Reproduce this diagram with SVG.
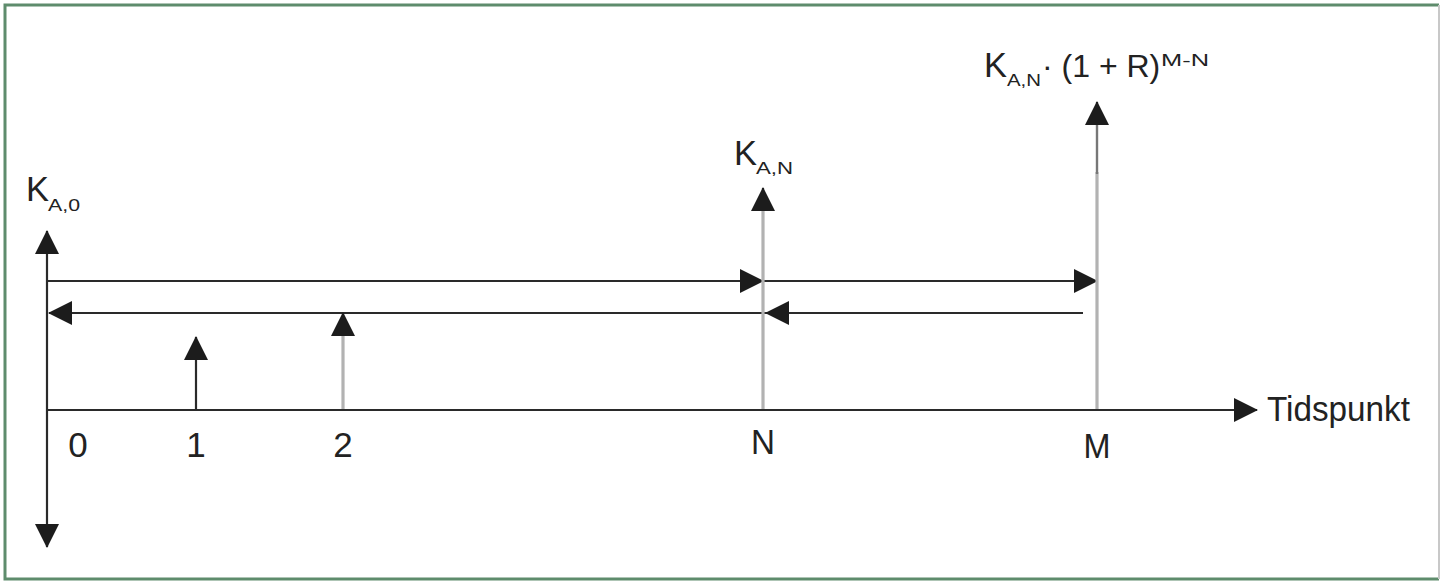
<svg xmlns="http://www.w3.org/2000/svg" width="1440" height="582" viewBox="0 0 1440 582">
  <style>
    .ln { stroke: #2a2a2a; stroke-width: 2.2; fill: none; }
    .gr { stroke: #b2b2b2; stroke-width: 3.2; fill: none; }
    .t { font-family: "Liberation Sans", Arial, sans-serif; font-size: 35px; fill: #222; }
    .s { font-family: "Liberation Sans", Arial, sans-serif; font-size: 17px; fill: #222; }
  </style>
  <defs>
    <marker id="ah" viewBox="0 0 24 24" markerWidth="24" markerHeight="24" refX="23" refY="12" orient="auto-start-reverse" markerUnits="userSpaceOnUse">
      <path d="M0,0 L24,12 L0,24 Z" fill="#1c1c1c"/>
    </marker>
  </defs>
  <rect width="1440" height="582" fill="#ffffff"/>
  <g id="frame">
    <path d="M1439,5 L5,5 L5,579 L1439,579" fill="none" stroke="#5e8c6c" stroke-width="3"/>
    <line x1="1439" y1="5" x2="1439" y2="579" stroke="#c8c8c8" stroke-width="2"/>
  </g>
  <g id="connectors">
    <line class="ln" x1="47" y1="547" x2="47" y2="231" marker-start="url(#ah)" marker-end="url(#ah)"/>
    <line class="ln" x1="46" y1="410" x2="1257" y2="410" marker-end="url(#ah)"/>
    <line class="ln" x1="47" y1="281" x2="763" y2="281" marker-end="url(#ah)"/>
    <line class="ln" x1="763" y1="281" x2="1097" y2="281" marker-end="url(#ah)"/>
    <line class="ln" x1="1083" y1="313" x2="766" y2="313" marker-end="url(#ah)"/>
    <line class="ln" x1="766" y1="313" x2="49" y2="313" marker-end="url(#ah)"/>
    <line class="ln" x1="196" y1="410" x2="196" y2="337" marker-end="url(#ah)"/>
    <line class="gr" x1="343" y1="409" x2="343" y2="330"/>
    <line class="ln" x1="343" y1="330" x2="343" y2="313" marker-end="url(#ah)"/>
    <line class="gr" x1="763" y1="409" x2="763" y2="205"/>
    <line class="ln" x1="763" y1="210" x2="763" y2="188" marker-end="url(#ah)"/>
    <line class="gr" x1="1097" y1="409" x2="1097" y2="172"/>
    <line x1="1097" y1="174" x2="1097" y2="120" stroke="#777" stroke-width="2.4"/>
    <line class="ln" x1="1097" y1="124" x2="1097" y2="102" marker-end="url(#ah)"/>
  </g>
  <g id="label-0"><text class="t" x="78" y="457" text-anchor="middle">0</text></g>
  <g id="label-1"><text class="t" x="196" y="457" text-anchor="middle">1</text></g>
  <g id="label-2"><text class="t" x="343" y="457" text-anchor="middle">2</text></g>
  <g id="label-N"><text class="t" x="763" y="454" text-anchor="middle" textLength="24" lengthAdjust="spacingAndGlyphs">N</text></g>
  <g id="label-M"><text class="t" x="1097" y="458" text-anchor="middle" textLength="27" lengthAdjust="spacingAndGlyphs">M</text></g>
  <g id="label-tidspunkt"><text class="t" x="1267" y="421" textLength="143" lengthAdjust="spacingAndGlyphs">Tidspunkt</text></g>
  <g id="label-KA0">
    <text class="t" x="26" y="201" textLength="23" lengthAdjust="spacingAndGlyphs">K</text>
    <text class="s" x="48" y="211" textLength="32" lengthAdjust="spacingAndGlyphs">A,0</text>
  </g>
  <g id="label-KAN">
    <text class="t" x="734" y="165" textLength="23" lengthAdjust="spacingAndGlyphs">K</text>
    <text class="s" x="756" y="174" textLength="37" lengthAdjust="spacingAndGlyphs">A,N</text>
  </g>
  <g id="label-KAN-M">
    <text class="t" x="984" y="77" textLength="23" lengthAdjust="spacingAndGlyphs">K</text>
    <text class="s" x="1007" y="86" textLength="34" lengthAdjust="spacingAndGlyphs">A,N</text>
    <text class="t" x="1042" y="77" style="font-size:32px">· (1 + R)</text>
    <text class="s" x="1161" y="66" textLength="48" lengthAdjust="spacingAndGlyphs">M-N</text>
  </g>
</svg>
